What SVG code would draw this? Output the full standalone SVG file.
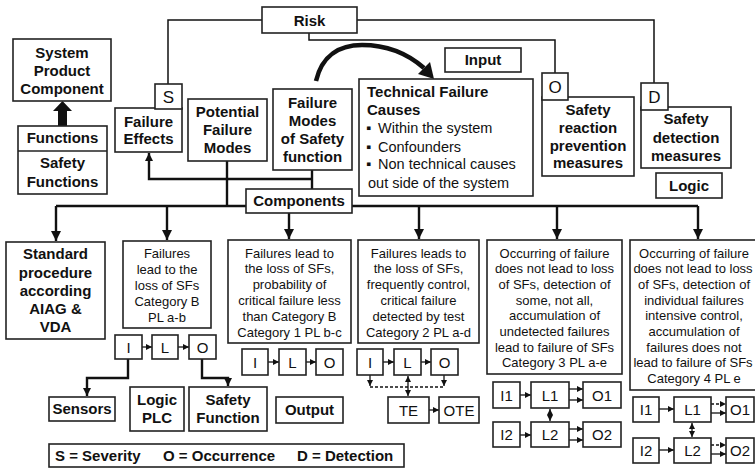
<svg xmlns="http://www.w3.org/2000/svg" width="755" height="468" viewBox="0 0 755 468">
<defs>
<marker id="ab" viewBox="0 0 10 10" refX="10" refY="5" markerUnits="userSpaceOnUse" markerWidth="10" markerHeight="10" orient="auto"><path d="M0,0 L10,5 L0,10 z" fill="#111"/></marker>
<marker id="am" viewBox="0 0 10 10" refX="10" refY="5" markerUnits="userSpaceOnUse" markerWidth="8" markerHeight="8" orient="auto"><path d="M0,0 L10,5 L0,10 z" fill="#111"/></marker>
<marker id="as" viewBox="0 0 10 10" refX="10" refY="5" markerUnits="userSpaceOnUse" markerWidth="6" markerHeight="6" orient="auto-start-reverse"><path d="M0,0 L10,5 L0,10 z" fill="#111"/></marker>
</defs>
<style>
.b{fill:#fff;stroke:#222;stroke-width:1.6}
.tb{font-family:"Liberation Sans",Arial,sans-serif;font-weight:bold;font-size:15px;text-anchor:middle;fill:#111}
.tl{font-family:"Liberation Sans",Arial,sans-serif;font-weight:bold;font-size:15px;fill:#111}
.tr{font-family:"Liberation Sans",Arial,sans-serif;font-size:13px;text-anchor:middle;fill:#111}
.tm{font-family:"Liberation Sans",Arial,sans-serif;font-size:14.5px;fill:#111}
.tk{font-family:"Liberation Sans",Arial,sans-serif;font-size:15px;text-anchor:middle;fill:#111}
.tx{font-family:"Liberation Sans",Arial,sans-serif;font-size:17px;text-anchor:middle;fill:#111}
.thin{fill:none;stroke:#111;stroke-width:1.5}
.bus{fill:none;stroke:#111;stroke-width:2.4}
.sm{fill:none;stroke:#111;stroke-width:1.3}
.dash{fill:none;stroke:#111;stroke-width:1.3;stroke-dasharray:3,2}
</style>
<rect width="755" height="468" fill="#fff"/>

<g id="connectors">
<polyline class="thin" points="168,84 168,20 262,20"/>
<polyline class="thin" points="357,20 654,20 654,83"/>
<polyline class="thin" points="309,33 309,40 555,40 555,73"/>
<path class="bus" d="M312,170 V189"/>
<path class="bus" d="M312,179 H149 V153" marker-end="url(#am)"/>
<path class="bus" d="M227,161 V206"/>
<path class="bus" d="M56,206 H698"/>
<path class="bus" d="M56,206 V241" marker-end="url(#ab)"/>
<path class="bus" d="M167,206 V240" marker-end="url(#ab)"/>
<path class="bus" d="M289,213 V239" marker-end="url(#ab)"/>
<path class="bus" d="M419,206 V239" marker-end="url(#ab)"/>
<path class="bus" d="M557,206 V239" marker-end="url(#ab)"/>
<path class="bus" d="M698,206 V239" marker-end="url(#ab)"/>
<path d="M316,81 C322,55 340,45 362,45 C388,45 408,54 424,68" fill="none" stroke="#111" stroke-width="4.5"/>
<polygon points="434,79 418,74 430,62" fill="#111"/>
<polygon points="58,126 58,111 53,111 62.5,101 72,111 67,111 67,126" fill="#111"/>
<path class="bus" d="M128,359 V378 H87 V396" marker-end="url(#am)"/>
<path class="bus" d="M202,359 V378 H228 V386" marker-end="url(#am)"/>
<path class="sm" d="M142,347 H152" marker-end="url(#as)"/>
<path class="sm" d="M178,347 H189" marker-end="url(#as)"/>
<path class="sm" d="M268,362 H279" marker-end="url(#as)"/>
<path class="sm" d="M306,362 H316" marker-end="url(#as)"/>
<path class="sm" d="M383,362 H394" marker-end="url(#as)"/>
<path class="sm" d="M421,362 H431" marker-end="url(#as)"/>
<path class="dash" d="M370,387 H444"/>
<path class="sm" d="M370,375 V386" marker-end="url(#as)"/>
<path class="sm" d="M444,375 V386" marker-end="url(#as)"/>
<path class="sm" d="M408,376 V396" marker-start="url(#as)" marker-end="url(#as)"/>
<path class="sm" d="M429,410 H439" marker-end="url(#as)"/>
<path class="sm" d="M520,395 H531" marker-end="url(#as)"/>
<path class="sm" d="M569,389 H583" marker-end="url(#as)"/>
<path class="sm" d="M569,400 H583" marker-end="url(#as)"/>
<path class="sm" d="M550,409 V421" marker-start="url(#as)" marker-end="url(#as)"/>
<path class="sm" d="M520,435 H531" marker-end="url(#as)"/>
<path class="sm" d="M569,429 H583" marker-end="url(#as)"/>
<path class="sm" d="M569,440 H583" marker-end="url(#as)"/>
<path class="sm" d="M659,409 H674" marker-end="url(#as)"/>
<path class="dash" d="M711,404 H726" marker-end="url(#as)"/>
<path class="sm" d="M711,413 H726" marker-end="url(#as)"/>
<path class="sm" d="M692,423 V437" marker-start="url(#as)" marker-end="url(#as)"/>
<path class="sm" d="M659,450 H674" marker-end="url(#as)"/>
<path class="dash" d="M711,445 H726" marker-end="url(#as)"/>
<path class="sm" d="M711,454 H726" marker-end="url(#as)"/>
</g>

<g id="risk"><rect class="b" x="262" y="7" width="95" height="26"/><text class="tb" x="309.5" y="26">Risk</text></g>
<g id="system"><rect class="b" x="13" y="39" width="98" height="62"/><text class="tb" x="62" y="58">System</text><text class="tb" x="62" y="76">Product</text><text class="tb" x="62" y="94">Component</text></g>
<g id="functions"><rect class="b" x="18" y="126" width="89" height="68"/><line x1="18" y1="151" x2="107" y2="151" stroke="#222" stroke-width="1.6"/><text class="tb" x="62.5" y="143">Functions</text><text class="tb" x="62.5" y="168">Safety</text><text class="tb" x="62.5" y="187">Functions</text></g>
<g id="failure-effects"><rect class="b" x="115" y="108" width="67" height="44"/><text class="tb" x="148.5" y="127">Failure</text><text class="tb" x="148.5" y="144">Effects</text></g>
<g id="s-box"><rect class="b" x="155" y="84" width="27" height="25"/><text class="tx" x="168.5" y="102.5">S</text></g>
<g id="potential"><rect class="b" x="188" y="99" width="79" height="62"/><text class="tb" x="227.5" y="117">Potential</text><text class="tb" x="227.5" y="135">Failure</text><text class="tb" x="227.5" y="153">Modes</text></g>
<g id="fm-safety"><rect class="b" x="273" y="89" width="79" height="81"/><text class="tb" x="312.5" y="108">Failure</text><text class="tb" x="312.5" y="126">Modes</text><text class="tb" x="312.5" y="144">of Safety</text><text class="tb" x="312.5" y="162">function</text></g>
<g id="input"><rect class="b" x="445" y="48" width="76" height="24"/><text class="tb" x="483" y="65">Input</text></g>
<g id="tech"><rect class="b" x="359" y="79" width="174" height="117"/>
<text class="tl" x="367" y="97">Technical Failure</text><text class="tl" x="367" y="115">Causes</text>
<text class="tm" y="133"><tspan x="366">▪</tspan><tspan x="378">Within the system</tspan></text>
<text class="tm" y="152"><tspan x="366">▪</tspan><tspan x="378">Confounders</tspan></text>
<text class="tm" y="169"><tspan x="366">▪</tspan><tspan x="378">Non technical causes</tspan></text>
<text class="tm" x="368" y="188">out side of the system</text></g>
<g id="reaction"><rect class="b" x="542" y="97" width="92" height="79"/><text class="tb" x="588" y="115">Safety</text><text class="tb" x="588" y="133">reaction</text><text class="tb" x="588" y="151">prevention</text><text class="tb" x="588" y="168">measures</text></g>
<g id="o-box"><rect class="b" x="542" y="73" width="26" height="27"/><text class="tx" x="555" y="93">O</text></g>
<g id="detection"><rect class="b" x="641" y="107" width="90" height="61"/><text class="tb" x="686" y="124">Safety</text><text class="tb" x="686" y="143">detection</text><text class="tb" x="686" y="161">measures</text></g>
<g id="d-box"><rect class="b" x="641" y="83" width="27" height="27"/><text class="tx" x="654.5" y="103">D</text></g>
<g id="logic"><rect class="b" x="656" y="173" width="66" height="25"/><text class="tb" x="689" y="191">Logic</text></g>
<g id="components"><rect class="b" x="246" y="189" width="106" height="24"/><text class="tb" x="299" y="206">Components</text></g>

<g id="standard"><rect class="b" x="6" y="242" width="99" height="97"/><text class="tb" x="55.5" y="259">Standard</text><text class="tb" x="55.5" y="278">procedure</text><text class="tb" x="55.5" y="296">according</text><text class="tb" x="55.5" y="314">AIAG &amp;</text><text class="tb" x="55.5" y="332">VDA</text></g>
<g id="cat-b"><rect class="b" x="123" y="241" width="88" height="87"/><text class="tr" x="167" y="258">Failures</text><text class="tr" x="167" y="274">lead to the</text><text class="tr" x="167" y="290">loss of SFs</text><text class="tr" x="167" y="306">Category B</text><text class="tr" x="167" y="322">PL a-b</text></g>
<g id="cat-1"><rect class="b" x="228" y="240" width="123" height="103"/><text class="tr" x="289.5" y="257.5">Failures lead to</text><text class="tr" x="289.5" y="273.3">the loss of SFs,</text><text class="tr" x="289.5" y="289.1">probability of</text><text class="tr" x="289.5" y="304.9">critical failure less</text><text class="tr" x="289.5" y="320.7">than Category B</text><text class="tr" x="289.5" y="336.5">Category 1 PL b-c</text></g>
<g id="cat-2"><rect class="b" x="358" y="240" width="121" height="103"/><text class="tr" x="418.5" y="257.5">Failures leads to</text><text class="tr" x="418.5" y="273.3">the loss of SFs,</text><text class="tr" x="418.5" y="289.1">frequently control,</text><text class="tr" x="418.5" y="304.9">critical failure</text><text class="tr" x="418.5" y="320.7">detected by test</text><text class="tr" x="418.5" y="336.5">Category 2 PL a-d</text></g>
<g id="cat-3"><rect class="b" x="487" y="240" width="135" height="134"/><text class="tr" x="554.5" y="257.5">Occurring of failure</text><text class="tr" x="554.5" y="273.2">does not lead to loss</text><text class="tr" x="554.5" y="288.9">of SFs, detection of</text><text class="tr" x="554.5" y="304.6">some, not all,</text><text class="tr" x="554.5" y="320.3">accumulation of</text><text class="tr" x="554.5" y="336">undetected failures</text><text class="tr" x="554.5" y="351.7">lead to failure of SFs</text><text class="tr" x="554.5" y="367.4">Category 3 PL a-e</text></g>
<g id="cat-4"><rect class="b" x="630" y="240" width="134" height="150"/><text class="tr" x="694" y="257.5">Occurring of failure</text><text class="tr" x="693" y="273.2">does not lead to loss</text><text class="tr" x="694" y="288.9">of SFs, detection of</text><text class="tr" x="694" y="304.6">individual failures</text><text class="tr" x="694" y="320.3">intensive control,</text><text class="tr" x="694" y="336">accumulation of</text><text class="tr" x="694" y="351.7">failures does not</text><text class="tr" x="693" y="367.4">lead to failure of SFs</text><text class="tr" x="694" y="383.1">Category 4 PL e</text></g>

<g id="b-i"><rect class="b" x="115" y="335" width="27" height="24"/><text class="tk" x="128.5" y="352.5">I</text></g>
<g id="b-l"><rect class="b" x="152" y="335" width="26" height="24"/><text class="tk" x="165" y="352.5">L</text></g>
<g id="b-o"><rect class="b" x="189" y="335" width="27" height="24"/><text class="tk" x="202.5" y="352.5">O</text></g>
<g id="sensors"><rect class="b" x="49" y="397" width="66" height="24"/><text class="tb" x="82" y="414">Sensors</text></g>
<g id="logic-plc"><rect class="b" x="130" y="387" width="54" height="44"/><text class="tb" x="157" y="405">Logic</text><text class="tb" x="157" y="423">PLC</text></g>
<g id="safety-function"><rect class="b" x="189" y="387" width="78" height="44"/><text class="tb" x="228" y="405">Safety</text><text class="tb" x="228" y="423">Function</text></g>
<g id="output"><rect class="b" x="276" y="397" width="67" height="26"/><text class="tb" x="309.5" y="415">Output</text></g>

<g id="c1-i"><rect class="b" x="242" y="349" width="26" height="26"/><text class="tk" x="255" y="367.5">I</text></g>
<g id="c1-l"><rect class="b" x="279" y="349" width="27" height="26"/><text class="tk" x="292.5" y="367.5">L</text></g>
<g id="c1-o"><rect class="b" x="316" y="349" width="27" height="26"/><text class="tk" x="329.5" y="367.5">O</text></g>
<g id="c2-i"><rect class="b" x="357" y="349" width="26" height="26"/><text class="tk" x="370" y="367.5">I</text></g>
<g id="c2-l"><rect class="b" x="394" y="349" width="27" height="26"/><text class="tk" x="407.5" y="367.5">L</text></g>
<g id="c2-o"><rect class="b" x="431" y="349" width="27" height="26"/><text class="tk" x="444.5" y="367.5">O</text></g>
<g id="te"><rect class="b" x="388" y="397" width="41" height="26"/><text class="tk" x="408.5" y="415.5">TE</text></g>
<g id="ote"><rect class="b" x="439" y="397" width="40" height="26"/><text class="tk" x="459" y="415.5">OTE</text></g>

<g id="c3-i1"><rect class="b" x="493" y="382" width="27" height="26"/><text class="tk" x="506.5" y="400.5">I1</text></g>
<g id="c3-l1"><rect class="b" x="531" y="382" width="38" height="26"/><text class="tk" x="550" y="400.5">L1</text></g>
<g id="c3-o1"><rect class="b" x="583" y="382" width="38" height="26"/><text class="tk" x="602" y="400.5">O1</text></g>
<g id="c3-i2"><rect class="b" x="493" y="422" width="27" height="25"/><text class="tk" x="506.5" y="440">I2</text></g>
<g id="c3-l2"><rect class="b" x="531" y="422" width="38" height="25"/><text class="tk" x="550" y="440">L2</text></g>
<g id="c3-o2"><rect class="b" x="583" y="422" width="38" height="25"/><text class="tk" x="602" y="440">O2</text></g>

<g id="c4-i1"><rect class="b" x="633" y="397" width="26" height="25"/><text class="tk" x="646" y="415">I1</text></g>
<g id="c4-l1"><rect class="b" x="674" y="397" width="37" height="25"/><text class="tk" x="692.5" y="415">L1</text></g>
<g id="c4-o1"><rect class="b" x="726" y="397" width="28" height="25"/><text class="tk" x="740" y="415">O1</text></g>
<g id="c4-i2"><rect class="b" x="633" y="438" width="26" height="25"/><text class="tk" x="646" y="456">I2</text></g>
<g id="c4-l2"><rect class="b" x="674" y="438" width="37" height="25"/><text class="tk" x="692.5" y="456">L2</text></g>
<g id="c4-o2"><rect class="b" x="726" y="438" width="28" height="25"/><text class="tk" x="740" y="456">O2</text></g>

<g id="legend"><rect class="b" x="49" y="444" width="355" height="23"/><text class="tl" x="55" y="461">S = Severity</text><text class="tl" x="163" y="461">O = Occurrence</text><text class="tl" x="297" y="461">D = Detection</text></g>
</svg>
